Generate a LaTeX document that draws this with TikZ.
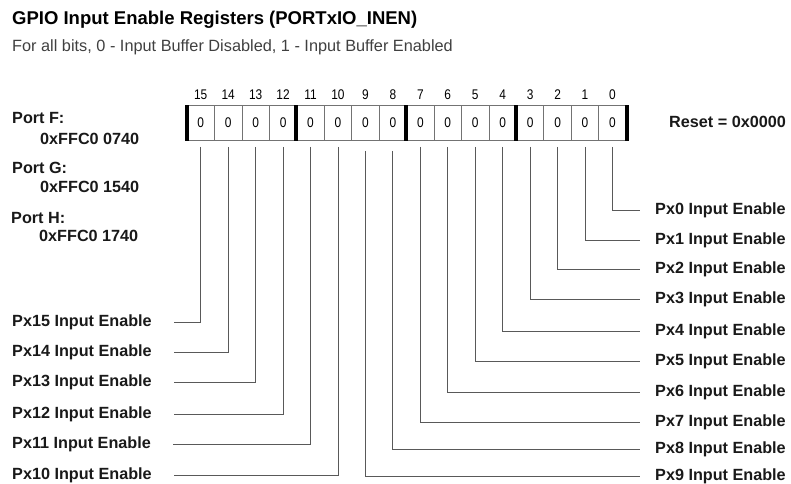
\documentclass[tikz,border=0pt]{standalone}
\usepackage{fontspec}
\setmainfont{Liberation Sans}
\newfontfamily\narrowfont[FakeStretch=0.85]{Liberation Sans}
\usepackage{tikz}
\usetikzlibrary{positioning}

\tikzset{
	cell/.style={draw=black!55, line width=0.8pt, minimum width=27.45pt, minimum height=35pt, inner sep=0pt, font=\narrowfont\fontsize{14}{16}\selectfont},
	bitno/.style={inner sep=0pt, font=\narrowfont\fontsize{14}{16}\selectfont},
	lbl/.style={inner sep=0pt, anchor=west, font=\bfseries\fontsize{16.2}{19}\selectfont, text=black!90},
	wire/.style={draw=black!65, line width=0.9pt},
	bar/.style={line width=4pt}
}

\begin{document}
\begin{tikzpicture}[x=1pt,y=-1pt]
			\useasboundingbox (0,0) rectangle (791,483);
			\node[anchor=west, inner sep=0pt, font=\bfseries\fontsize{18.5}{22}\selectfont] (title) at (12,20) {GPIO Input Enable Registers (PORTxIO\_INEN)};
			\node[anchor=west, inner sep=0pt, text=black!75, font=\fontsize{16.3}{19}\selectfont] (sub) at (12,47) {For all bits, 0 - Input Buffer Disabled, 1 - Input Buffer Enabled};
			\foreach \i in {0,...,15} {
				\node[cell] (b\i) at ({187+27.45*(15.5-\i)},123) {0};
				\node[bitno, above=5pt of b\i] (n\i) {\i};
			}
			\foreach \j in {15,11,7,3}
				\draw[bar] (b\j.north west) -- (b\j.south west);
			\draw[bar] (b0.north east) -- (b0.south east);
			\node[lbl] (reset) at (669,122) {Reset = 0x0000};
			\node[lbl] (portf) at (12,118) {Port F:};
			\node[lbl] (addrf) at (40,139) {0xFFC0 0740};
			\node[lbl] (portg) at (12,168) {Port G:};
			\node[lbl] (addrg) at (40,187) {0xFFC0 1540};
			\node[lbl] (porth) at (11,218) {Port H:};
			\node[lbl] (addrh) at (39,236) {0xFFC0 1740};
			\foreach \i/\y in {0/210,1/240,2/269,3/299,4/331,5/361,6/392,7/422,8/449,9/476}
				\node[lbl] (en\i) at (655,\y) {Px\i{} Input Enable};
			\foreach \i/\y in {10/475,11/444,12/414,13/382,14/352,15/322}
				\node[lbl] (en\i) at (12,\y) {Px\i{} Input Enable};
			\foreach \i in {0,...,7}
				\draw[wire] ([yshift=-6pt]b\i.south) |- ([xshift=-15pt]en\i.west);
			\foreach \i in {8,9}
				\draw[wire] ([yshift=-10pt]b\i.south) |- ([xshift=-15pt]en\i.west);
			\foreach \i in {10,...,15}
				\draw[wire] ([yshift=-6pt]b\i.south) |- ([xshift=22pt]en\i.east);
		\end{tikzpicture}
\end{document}
